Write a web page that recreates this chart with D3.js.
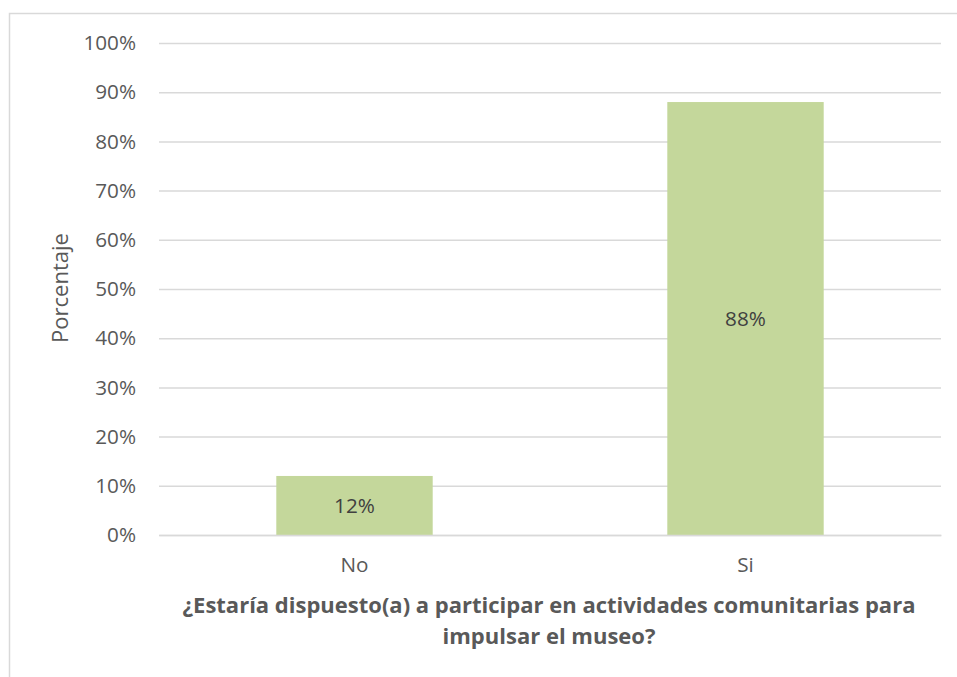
<!DOCTYPE html>
<html>
<head>
<meta charset="utf-8">
<script src="https://cdn.jsdelivr.net/npm/d3@7"></script>
<style>
  body { margin: 0; background: #fff; }
  svg { display: block; font-family: 'Open Sans', sans-serif; }
</style>
</head>
<body>
<div id="chart"></div>
<script>
const categories = ['No', 'Si']
const values = [12, 88]
const yTicks = [0, 10, 20, 30, 40, 50, 60, 70, 80, 90, 100]
const xTitle = ['¿Estaría dispuesto(a) a participar en actividades comunitarias para', 'impulsar el museo?']
const yTitle = 'Porcentaje'

const W = 957
const H = 677
const margin = { top: 43, left: 159, right: 16, bottom: 142 }

const svg = d3
  .select('#chart')
  .append('svg')
  .attr('width', W)
  .attr('height', H)

// chart frame
svg
  .append('rect')
  .attr('x', 9.5)
  .attr('y', 13.5)
  .attr('width', W + 20)
  .attr('height', H + 20)
  .attr('fill', 'none')
  .attr('stroke', '#d9d9d9')
  .attr('stroke-width', 1.5)

const xScale = d3
  .scaleBand()
  .domain(categories)
  .range([margin.left, W - margin.right])
  .paddingInner(0.6)
  .paddingOuter(0.3)

const yScale = d3
  .scaleLinear()
  .domain([0, 100])
  .range([H - margin.bottom, margin.top])

// gridlines + tick labels
const yAxis = d3
  .axisLeft(yScale)
  .tickValues(yTicks)
  .tickSize(-(W - margin.left - margin.right))
  .tickPadding(23)
  .tickFormat(d => d + '%')

svg
  .append('g')
  .attr('class', 'y-axis')
  .attr('transform', 'translate(' + margin.left + ',0)')
  .call(yAxis)
  .call(g => g.select('.domain').remove())
  .call(g => g.selectAll('.tick line').attr('stroke', '#d9d9d9').attr('stroke-width', 1.5))
  .call(g =>
    g
      .selectAll('.tick text')
      .attr('fill', '#595959')
      .attr('font-size', 20.7)
      .attr('font-family', "'Open Sans', sans-serif")
  )

// bars
svg
  .selectAll('.bar')
  .data(values)
  .enter()
  .append('rect')
  .attr('class', 'bar')
  .attr('x', (d, i) => xScale(categories[i]))
  .attr('y', d => yScale(d))
  .attr('width', xScale.bandwidth())
  .attr('height', d => yScale(0) - yScale(d))
  .attr('fill', '#c4d79b')

// value labels
svg
  .selectAll('.val')
  .data(values)
  .enter()
  .append('text')
  .attr('class', 'val')
  .attr('x', (d, i) => xScale(categories[i]) + xScale.bandwidth() / 2)
  .attr('y', d => (yScale(d) + yScale(0)) / 2)
  .attr('dy', '0.35em')
  .attr('text-anchor', 'middle')
  .attr('font-size', 20.7)
  .attr('fill', '#404040')
  .text(d => d + '%')

// x axis labels
const xAxis = d3.axisBottom(xScale).tickSize(0).tickPadding(22)
svg
  .append('g')
  .attr('class', 'x-axis')
  .attr('transform', 'translate(0,' + yScale(0) + ')')
  .call(xAxis)
  .call(g => g.select('.domain').attr('stroke', '#d9d9d9').attr('stroke-width', 1.5))
  .call(g =>
    g
      .selectAll('.tick text')
      .attr('dy', null)
      .attr('y', 37)
      .attr('fill', '#595959')
      .attr('font-size', 20.7)
      .attr('font-family', "'Open Sans', sans-serif")
  )

// x title
svg
  .append('text')
  .attr('text-anchor', 'middle')
  .attr('font-size', 22)
  .attr('font-weight', 700)
  .attr('fill', '#595959')
  .selectAll('tspan')
  .data(xTitle)
  .enter()
  .append('tspan')
  .attr('x', 549)
  .attr('y', (d, i) => 613 + i * 31)
  .text(d => d)

// y title
svg
  .append('text')
  .attr('transform', 'translate(68,288) rotate(-90)')
  .attr('text-anchor', 'middle')
  .attr('font-size', 22)
  .attr('fill', '#595959')
  .text(yTitle)
</script>
</body>
</html>
